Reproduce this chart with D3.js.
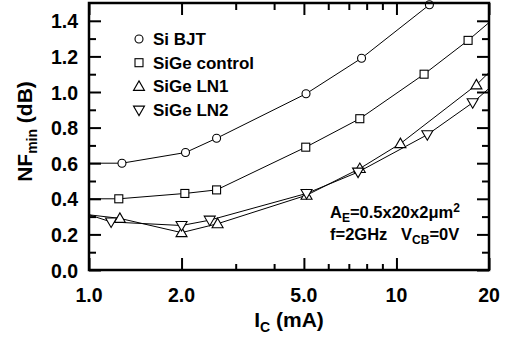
<!DOCTYPE html>
<html>
<head>
<meta charset="utf-8">
<script src="https://cdn.jsdelivr.net/npm/d3@7"></script>
<style>
  body { margin: 0; background: #fff; }
  svg text { font-family: "Liberation Sans", Arial, sans-serif; font-weight: bold; fill: #000; }
</style>
</head>
<body>
<svg id="chart" width="505" height="341"></svg>
<script>
// data (Ic in mA, NFmin in dB)
let seriesNames = ["Si BJT", "SiGe control", "SiGe LN1", "SiGe LN2"];
let siBjtX = [1.28, 2.06, 2.6, 5.08, 7.7, 12.8];
let siBjtY = [0.60, 0.66, 0.74, 0.99, 1.19, 1.49];
let controlX = [1.25, 2.05, 2.6, 5.07, 7.6, 12.3, 17.1];
let controlY = [0.40, 0.43, 0.45, 0.69, 0.85, 1.10, 1.29];
let ln1X = [1.26, 2.0, 2.62, 5.1, 7.6, 10.3, 18.2];
let ln1Y = [0.29, 0.21, 0.26, 0.42, 0.57, 0.71, 1.04];
let ln2X = [1.18, 2.0, 2.47, 5.1, 7.5, 12.6, 17.7];
let ln2Y = [0.27, 0.25, 0.28, 0.43, 0.55, 0.76, 0.94];
// where each fitted line meets the frame
let lineStartY = [0.60, 0.40, 0.31, 0.31];
let lineEndY = [1.62, 1.39, 1.11, 1.02];
let xTicksMajor = [1, 2, 5, 10, 20];
let xTickLabels = ["1.0", "2.0", "5.0", "10", "20"];
let xTicksMinor = [3, 4, 6, 7, 8, 9];
let yTicksMajor = [0, 0.2, 0.4, 0.6, 0.8, 1.0, 1.2, 1.4];
let yTicksMinor = [0.1, 0.3, 0.5, 0.7, 0.9, 1.1, 1.3];

let margin = { top: 3, right: 16, bottom: 71, left: 89 };
let svgWidth = 505, svgHeight = 341;
let width = svgWidth - margin.left - margin.right;
let height = svgHeight - margin.top - margin.bottom;

let svg = d3.select("#chart");
let chartGroup = svg.append("g")
  .attr("transform", `translate(${margin.left}, ${margin.top})`);

let x = d3.scaleLog().domain([1, 20]).range([0, width]);
let y = d3.scaleLinear().domain([0, 1.5]).range([height, 0]);

svg.append("defs").append("clipPath").attr("id", "plotclip")
  .append("rect").attr("width", width).attr("height", height);

// ticks pointing inward on all four sides
function tickSet(axisFn, scale, vals, len, tr) {
  chartGroup.append("g")
    .attr("transform", tr)
    .call(axisFn(scale).tickValues(vals).tickSize(len).tickFormat(""))
    .call(g => g.select(".domain").remove())
    .call(g => g.selectAll("line").attr("stroke", "#000").attr("stroke-width", 2));
}
tickSet(d3.axisTop, x, xTicksMajor, 12, `translate(0, ${height})`);
tickSet(d3.axisTop, x, xTicksMinor, 6, `translate(0, ${height})`);
tickSet(d3.axisBottom, x, xTicksMajor, 12, "translate(0, 0)");
tickSet(d3.axisBottom, x, xTicksMinor, 7, "translate(0, 0)");
tickSet(d3.axisRight, y, yTicksMajor, 12, "translate(0, 0)");
tickSet(d3.axisRight, y, yTicksMinor, 7, "translate(0, 0)");
tickSet(d3.axisLeft, y, yTicksMajor, 12, `translate(${width}, 0)`);
tickSet(d3.axisLeft, y, yTicksMinor, 7, `translate(${width}, 0)`);

// tick labels
chartGroup.selectAll(".xlab").data(xTicksMajor).enter().append("text")
  .attr("x", d => x(d)).attr("y", height + 32)
  .attr("text-anchor", "middle").style("font-size", "19.5px")
  .text((d, i) => xTickLabels[i]);
chartGroup.selectAll(".ylab").data(yTicksMajor).enter().append("text")
  .attr("x", -11).attr("y", d => y(d) + 7.5)
  .attr("text-anchor", "end").style("font-size", "19.5px")
  .text(d => d.toFixed(1));

// axis titles
let xt = chartGroup.append("text")
  .attr("x", width / 2).attr("y", height + 57)
  .attr("text-anchor", "middle").style("font-size", "21px");
xt.append("tspan").text("I");
xt.append("tspan").attr("dy", 5).style("font-size", "14px").text("C");
xt.append("tspan").attr("dy", -5).text(" (mA)");

let yt = chartGroup.append("text")
  .attr("transform", `translate(${-57}, ${height / 2 - 5}) rotate(-90)`)
  .attr("text-anchor", "middle").style("font-size", "21px");
yt.append("tspan").text("NF");
yt.append("tspan").attr("dy", 5).style("font-size", "14px").text("min");
yt.append("tspan").attr("dy", -5).text(" (dB)");

// series
let series = [
  { xs: siBjtX, ys: siBjtY, shape: "circle" },
  { xs: controlX, ys: controlY, shape: "square" },
  { xs: ln1X, ys: ln1Y, shape: "up" },
  { xs: ln2X, ys: ln2Y, shape: "down" }
];

function marker(sel, shape) {
  if (shape === "circle") {
    sel.append("circle").attr("r", 4);
  } else if (shape === "square") {
    sel.append("rect").attr("x", -4).attr("y", -4).attr("width", 8).attr("height", 8);
  } else if (shape === "up") {
    sel.append("path").attr("d", "M0,-5.5L5.5,4L-5.5,4Z");
  } else {
    sel.append("path").attr("d", "M0,5.5L5.5,-4L-5.5,-4Z");
  }
  sel.selectAll("*").attr("fill", "#fff").attr("stroke", "#000").attr("stroke-width", 1.1);
}

let line = d3.line().x(d => x(d[0])).y(d => y(d[1]));
let plot = chartGroup.append("g").attr("clip-path", "url(#plotclip)");

series.forEach(function(s, i) {
  let pts = s.xs.map((v, j) => [v, s.ys[j]]);
  pts.unshift([1, lineStartY[i]]);
  pts.push([20, lineEndY[i]]);
  plot.append("path").datum(pts)
    .attr("d", line).attr("fill", "none")
    .attr("stroke", "#000").attr("stroke-width", 1);
});
series.forEach(function(s) {
  s.xs.forEach(function(v, j) {
    let g = chartGroup.append("g")
      .attr("transform", `translate(${x(v)}, ${y(s.ys[j])})`);
    marker(g, s.shape);
  });
});

// frame
chartGroup.append("rect")
  .attr("width", width).attr("height", height)
  .attr("fill", "none").attr("stroke", "#000").attr("stroke-width", 2.5);

// legend
let legend = chartGroup.append("g").attr("transform", "translate(50, 36)");
seriesNames.forEach(function(name, i) {
  let row = legend.append("g").attr("transform", `translate(0, ${i * 23.7})`);
  marker(row.append("g"), series[i].shape);
  row.append("text").attr("x", 14).attr("y", 6).style("font-size", "17px").text(name);
});

// annotation
let a1 = chartGroup.append("text").attr("x", 241).attr("y", 215).style("font-size", "16.5px");
a1.append("tspan").text("A");
a1.append("tspan").attr("dy", 4).style("font-size", "12px").text("E");
a1.append("tspan").attr("dy", -4).text("=0.5x20x2\u03bcm");
a1.append("tspan").attr("dy", -6).style("font-size", "12px").text("2");
let a2 = chartGroup.append("text").attr("x", 241).attr("y", 237).style("font-size", "16.5px");
a2.append("tspan").text("f=2GHz\u00a0\u00a0\u00a0V");
a2.append("tspan").attr("dy", 4).style("font-size", "12px").text("CB");
a2.append("tspan").attr("dy", -4).text("=0V");
</script>
</body>
</html>
